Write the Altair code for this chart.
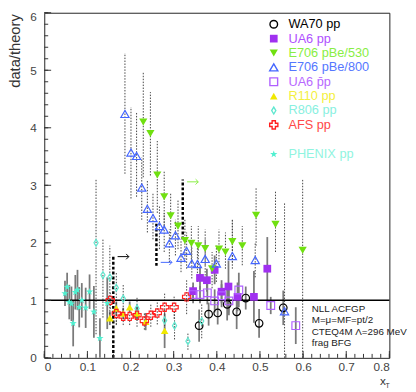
import altair as alt
import pandas as pd

# ---------------- data ----------------
WA70_X = [0.359, 0.381, 0.402, 0.424, 0.446, 0.467, 0.498, 0.554]
WA70_Y = [0.56, 0.76, 0.78, 0.93, 0.80, 1.04, 0.60, 0.87]
WA70_E = [0.28, 0.20, 0.20, 0.28, 0.30, 0.20, 0.25, 0.30]

UA6PP_X = [0.345, 0.361, 0.377, 0.395, 0.411, 0.427, 0.448, 0.486, 0.517]
UA6PP_Y = [1.16, 1.39, 1.35, 1.53, 1.15, 1.24, 1.06, 1.06, 1.55]
UA6PP_E = [0.15, 0.20, 0.20, 0.25, 0.20, 0.45, 0.25, 0.45, 0.55]

E530_X = [0.2295, 0.246, 0.262, 0.278, 0.293, 0.310, 0.326, 0.341, 0.357,
          0.373, 0.389, 0.405, 0.420, 0.436, 0.459, 0.491, 0.536, 0.599]
E530_Y = [4.10, 3.90, 3.18, 2.80, 2.47, 2.29, 2.04, 1.99, 1.95,
          1.90, 1.55, 1.89, 1.84, 2.02, 1.95, 2.48, 2.32, 1.87]
E530_HI = [4.96, 4.62, 3.77, 3.26, 2.86, 2.74, 2.40, 2.29, 2.29,
           2.23, 1.84, 2.23, 2.18, 2.40, 2.29, 2.97, 2.89, 3.10]
E530_LO = [3.14, 3.17, 2.52, 2.29, 2.06, 1.89, 1.66, 1.66, 1.61,
           1.61, 1.21, 1.61, 1.55, 1.66, 1.61, 1.95, 1.84, 0.0]

E800_X = [0.187, 0.201, 0.214, 0.226, 0.239, 0.252, 0.267, 0.278, 0.290, 0.304,
          0.317, 0.330, 0.342, 0.355, 0.373, 0.399, 0.436, 0.489, 0.557]
E800_Y = [4.24, 3.57, 3.51, 2.96, 2.59, 2.43, 2.29, 2.23, 1.99, 2.13,
          1.74, 1.86, 1.64, 1.63, 1.72, 1.64, 1.77, 1.70, 0.81]
E800_HI = [5.30, 4.36, 4.28, 3.48, 3.09, 2.86, 2.63, 2.52, 2.23, 2.40,
           2.06, 2.18, 1.95, 1.95, 2.06, 1.95, 2.40, 2.00, 2.69]
E800_LO = [3.20, 2.77, 2.80, 2.40, 2.18, 2.06, 1.89, 1.84, 1.66, 1.78,
           1.49, 1.55, 1.38, 1.32, 1.38, 1.32, 1.55, 1.40, 0.0]

UA6PBP_X = [0.345, 0.361, 0.378, 0.395, 0.411, 0.428, 0.451, 0.525, 0.583]
UA6PBP_Y = [1.10, 1.10, 1.13, 0.99, 1.08, 0.99, 1.18, 0.91, 0.56]
UA6PBP_E = [0.15, 0.15, 0.20, 0.20, 0.20, 0.25, 0.30, 0.15, 0.32]

R110_X = [0.152, 0.167, 0.183, 0.198, 0.215, 0.235, 0.279]
R110_Y = [0.69, 0.86, 0.77, 0.88, 0.77, 0.63, 0.47]
R110_E = [0.12, 0.12, 0.10, 0.10, 0.12, 0.15, 0.30]

R806_X = [0.120, 0.136, 0.152, 0.167, 0.183, 0.215, 0.279, 0.302, 0.333, 0.365]
R806_Y = [2.00, 1.44, 1.40, 1.22, 1.03, 0.86, 0.65, 0.56, 0.29, 0.64]
R806_HI = [3.11, 2.06, 1.95, 1.49, 1.28, 1.06, 0.85, 0.80, 0.44, 0.94]
R806_LO = [0.41, 0.70, 0.76, 0.58, 0.78, 0.66, 0.45, 0.32, 0.14, 0.34]

AFS_X = [0.153, 0.167, 0.183, 0.198, 0.215, 0.232, 0.247, 0.262, 0.279, 0.301, 0.330]
AFS_Y = [1.00, 0.77, 0.72, 0.72, 0.74, 0.64, 0.74, 0.78, 0.88, 0.88, 1.06]
AFS_E = [0.15, 0.20, 0.15, 0.15, 0.20, 0.15, 0.20, 0.20, 0.25, 0.20, 0.30]

PHENIX_X = [0.048, 0.053, 0.058, 0.063, 0.067, 0.072, 0.077, 0.081, 0.087,
            0.096, 0.105, 0.115, 0.129, 0.146]
PHENIX_Y = [1.12, 1.23, 0.97, 0.94, 0.60, 1.14, 1.18, 0.88, 1.00,
            0.87, 1.15, 0.80, 0.34, 0.95]
PHENIX_E = [0.22, 0.25, 0.30, 0.30, 0.40, 0.30, 0.35, 0.35, 0.30,
            0.35, 0.30, 0.45, 0.35, 0.45]

# cut lines (thick dashed verticals) and arrows
CUT_X = [0.160, 0.260, 0.321]
CUT_LO = [0.0, 1.60, 2.06]
CUT_HI = [1.78, 2.36, 3.10]
ARROW_X0 = [0.170, 0.270, 0.331]
ARROW_X1 = [0.196, 0.296, 0.357]
ARROW_Y = [1.76, 1.66, 3.06]
ARROW_C = ["#000000", "#4466ff", "#88ee44"]

LEGEND_Y = [5.80, 5.55, 5.30, 5.05, 4.80, 4.55, 4.30, 4.05, 3.54]
NOTE_LINES = ["NLL ACFGP", "M=\u03bc=MF=pt/2", "CTEQ4M \u039b=296 MeV", "frag  BFG"]
NOTE_Y = [0.85, 0.65, 0.45, 0.26]

Y_LABELS = [0, 1, 2, 3, 4, 5, 6]
X_LABELS = [0, 0.1, 0.2, 0.3, 0.4, 0.5, 0.6, 0.7, 0.8]

STAR = ("M0,-1L0.235,-0.324L0.951,-0.309L0.380,0.124L0.588,0.809L0,0.4"
        "L-0.588,0.809L-0.380,0.124L-0.951,-0.309L-0.235,-0.324Z")
DIAMOND = "M0,-1L0.6,0L0,1L-0.6,0Z"
CHEVRON = "M-1,-1L0,0L-1,1"

# ---------------- helpers ----------------
FONT = "Liberation Sans"
xs = alt.Scale(domain=[0, 0.8], nice=False, zero=False)
ys = alt.Scale(domain=[0, 6], nice=False, zero=False)
xaxis = alt.Axis(values=X_LABELS, format="~g", ticks=False, domain=False, grid=False,
                 labelFontSize=12, labelColor="#444444", labelFont=FONT, labelPadding=4,
                 title="x", titleFontSize=12, titleFontWeight="normal", titleFont=FONT,
                 titleColor="#333333", titleX=345, titleY=27, titleBaseline="alphabetic")
yaxis = alt.Axis(values=Y_LABELS, format="d", ticks=False, domain=False, grid=False,
                 labelFontSize=12, labelColor="#444444", labelFont=FONT, labelPadding=8,
                 labelOffset={"condition": {"test": "datum.value == 6", "value": 4}, "value": 0},
                 title="data/theory", titleFontSize=15, titleFontWeight="normal",
                 titleFont=FONT, titleColor="#333333", titleAngle=270, titleX=-25,
                 titleY=1, titleAlign="right", titleBaseline="alphabetic")
X = lambda f: alt.X(f, type="quantitative", scale=xs, axis=xaxis)
Y = lambda f: alt.Y(f, type="quantitative", scale=ys, axis=yaxis)


def sym(yv, ev):
    return [y - e for y, e in zip(yv, ev)], [y + e for y, e in zip(yv, ev)]


series = [
    # name, x, y, lo, hi, shape, filled, color, label colour, error style, size
    ("WA70 pp", WA70_X, WA70_Y, *sym(WA70_Y, WA70_E), "circle", False, "#000000", "#000000", "solid", 60),
    ("UA6 pp", UA6PP_X, UA6PP_Y, *sym(UA6PP_Y, UA6PP_E), "square", True, "#a030f0", "#b050ff", "solid", 62),
    ("E706 pBe/530", E530_X, E530_Y, E530_LO, E530_HI, "triangle-down", True, "#70e010", "#88ee44", "dot", 70),
    ("E706 pBe/800", E800_X, E800_Y, E800_LO, E800_HI, "triangle-up", False, "#4466ff", "#5577ff", "dot", 70),
    ("UA6 p\u0304p", UA6PBP_X, UA6PBP_Y, *sym(UA6PBP_Y, UA6PBP_E), "square", False, "#b060ff", "#b868ff", "solid", 62),
    ("R110 pp", R110_X, R110_Y, *sym(R110_Y, R110_E), "triangle-up", True, "#f0e800", "#f4f040", "solid", 60),
    ("R806 pp", R806_X, R806_Y, R806_LO, R806_HI, DIAMOND, False, "#60e8d0", "#88f0e0", "dot", 50),
    ("AFS pp", AFS_X, AFS_Y, *sym(AFS_Y, AFS_E), "cross", False, "#ff2020", "#ff4848", "dot", 70),
    ("PHENIX pp", PHENIX_X, PHENIX_Y, *sym(PHENIX_Y, PHENIX_E), STAR, True, "#50f0d0", "#90f4e0", "solid", 60),
]

bars, points, legend = [], [], []
for i, (name, xv, yv, lo, hi, shape, filled, col, lcol, est, size) in enumerate(series):
    df = pd.DataFrame({"x": xv, "y": yv, "lo": lo, "hi": hi})
    df["lo"] = df["lo"].clip(lower=0)
    if est == "dot":
        rule = alt.Chart(df).mark_rule(color="#444444", strokeWidth=1, strokeDash=[1.5, 1.5])
    else:
        rule = alt.Chart(df).mark_rule(color="#7a7a7a", strokeWidth=1.8)
    bars.append(rule.encode(x=X("x"), y=Y("lo"), y2="hi"))
    mk = alt.Chart(df).mark_point(shape=shape, filled=filled, size=size,
                                  color=col, strokeWidth=1.2, opacity=1)
    points.append(mk.encode(x=X("x"), y=Y("y")))
    ldf = pd.DataFrame({"x": [0.532], "tx": [0.566], "y": [LEGEND_Y[i]], "t": [name]})
    legend.append(alt.Chart(ldf).mark_point(shape=shape, filled=filled, size=size,
                                            color=col, strokeWidth=1.4, opacity=1)
                  .encode(x=X("x"), y=Y("y")))
    legend.append(alt.Chart(ldf).mark_text(align="left", baseline="middle", fontSize=13,
                                           font=FONT, color=lcol)
                  .encode(x=X("tx"), y=Y("y"), text="t:N"))

# horizontal line at 1
one = alt.Chart(pd.DataFrame({"y": [1.0]})).mark_rule(color="#000000", strokeWidth=1.5).encode(
    y=Y("y"), x=alt.value(0), x2=alt.value(352))

cut_df = pd.DataFrame({"x": CUT_X, "lo": CUT_LO, "hi": CUT_HI})
cuts = alt.Chart(cut_df).mark_rule(color="#000000", strokeWidth=2.5, strokeDash=[3, 2]).encode(
    x=X("x"), y=Y("lo"), y2="hi")

arr_df = pd.DataFrame({"x0": ARROW_X0, "x1": ARROW_X1, "y": ARROW_Y, "c": ARROW_C})
arr_lines = alt.Chart(arr_df).mark_rule(strokeWidth=1).encode(
    x=X("x0"), x2="x1", y=Y("y"), color=alt.Color("c:N", scale=None))
arr_heads = alt.Chart(arr_df).mark_point(shape=CHEVRON, filled=False, size=30,
                                         strokeWidth=1, opacity=1).encode(
    x=X("x1"), y=Y("y"), color=alt.Color("c:N", scale=None))

note_df = pd.DataFrame({"x": [0.62] * len(NOTE_LINES), "y": NOTE_Y, "t": NOTE_LINES})
notes = alt.Chart(note_df).mark_text(align="left", baseline="middle", fontSize=10,
                                     font=FONT, color="#222222").encode(
    x=X("x"), y=Y("y"), text="t:N")

# ticks (inside, ROOT style)
ymaj = pd.DataFrame({"v": Y_LABELS})
ymin = pd.DataFrame({"v": [k * 0.2 for k in range(31)]})
xmaj = pd.DataFrame({"v": X_LABELS})
xmin = pd.DataFrame({"v": [k * 0.02 for k in range(41)]})
tick_col = "#333333"
yt1 = alt.Chart(ymaj).mark_rule(color=tick_col).encode(y=Y("v"), x=alt.value(0), x2=alt.value(7))
yt2 = alt.Chart(ymin).mark_rule(color=tick_col).encode(y=Y("v"), x=alt.value(0), x2=alt.value(4))
xt1 = alt.Chart(xmaj).mark_rule(color=tick_col).encode(x=X("v"), y=alt.value(352), y2=alt.value(345))
xt2 = alt.Chart(xmin).mark_rule(color=tick_col).encode(x=X("v"), y=alt.value(352), y2=alt.value(348))

sub_t = alt.Chart(pd.DataFrame({"t": ["T"]})).mark_text(fontSize=7, font=FONT,
                                                       color="#333333", align="left").encode(
    x=alt.value(348), y=alt.value(381), text="t:N")

chart = alt.layer(*bars, cuts, one, *points, arr_lines, arr_heads, notes,
                  *legend, yt1, yt2, xt1, xt2, sub_t).properties(
    width=352, height=352,
    autosize=alt.AutoSizeParams(type="none"),
    padding={"left": 37, "top": 1, "right": 19, "bottom": 31},
).configure_view(stroke="#222222", strokeWidth=1)

chart.save("out.html", embed_options={"renderer": "svg", "actions": False})
